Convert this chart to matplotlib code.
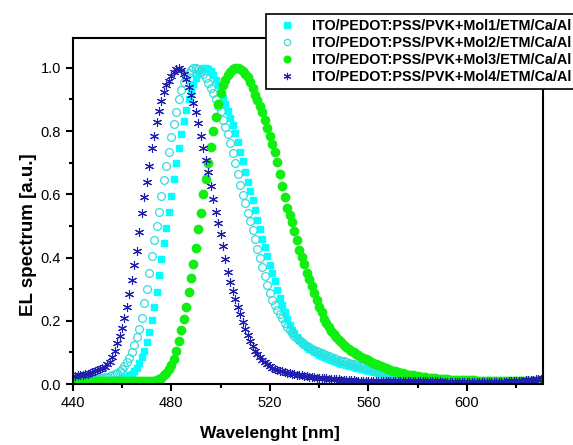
import numpy as np
import matplotlib.pyplot as plt
from matplotlib.ticker import MultipleLocator

plt.rcParams['font.family'] = ['Liberation Sans', 'DejaVu Sans']

# wavelength grid of the measured spectra, 1 nm steps
wavelength = np.arange(440, 632)

mol1 = [
    0.003, 0.003, 0.003, 0.004, 0.004, 0.004, 0.005, 0.005, 0.006, 0.006,
    0.007, 0.008, 0.008, 0.009, 0.010, 0.011, 0.012, 0.013, 0.014, 0.016,
    0.018, 0.020, 0.023, 0.027, 0.033, 0.041, 0.052, 0.066, 0.084, 0.105,
    0.132, 0.165, 0.203, 0.245, 0.292, 0.345, 0.395, 0.445, 0.495, 0.545,
    0.595, 0.648, 0.698, 0.745, 0.790, 0.832, 0.868, 0.900, 0.927, 0.950,
    0.968, 0.982, 0.992, 0.998, 1.000, 0.997, 0.990, 0.978, 0.962, 0.945,
    0.925, 0.905, 0.885, 0.862, 0.840, 0.818, 0.793, 0.765, 0.735, 0.705,
    0.672, 0.640, 0.610, 0.582, 0.552, 0.520, 0.490, 0.460, 0.432, 0.405,
    0.378, 0.352, 0.325, 0.298, 0.272, 0.250, 0.227, 0.205, 0.186, 0.172,
    0.160, 0.148, 0.138, 0.130, 0.123, 0.117, 0.112, 0.107, 0.102, 0.097,
    0.093, 0.089, 0.085, 0.082, 0.079, 0.076, 0.073, 0.070, 0.067, 0.064,
    0.062, 0.060, 0.058, 0.056, 0.054, 0.052, 0.050, 0.048, 0.046, 0.044,
    0.042, 0.041, 0.039, 0.038, 0.036, 0.035, 0.033, 0.032, 0.031, 0.030,
    0.029, 0.028, 0.027, 0.026, 0.025, 0.024, 0.023, 0.022, 0.021, 0.020,
    0.019, 0.019, 0.018, 0.017, 0.017, 0.016, 0.016, 0.015, 0.015, 0.014,
    0.014, 0.013, 0.013, 0.012, 0.012, 0.012, 0.011, 0.011, 0.011, 0.010,
    0.010, 0.010, 0.010, 0.010, 0.010, 0.010, 0.009, 0.009, 0.009, 0.009,
    0.009, 0.009, 0.009, 0.009, 0.009, 0.009, 0.008, 0.008, 0.008, 0.008,
    0.008, 0.008, 0.008, 0.008, 0.008, 0.008, 0.008, 0.008, 0.008, 0.008,
    0.008, 0.008,
]

mol2 = [
    0.010, 0.010, 0.011, 0.011, 0.012, 0.012, 0.013, 0.014, 0.015, 0.016,
    0.017, 0.018, 0.019, 0.021, 0.023, 0.025, 0.028, 0.031, 0.035, 0.040,
    0.048, 0.058, 0.070, 0.083, 0.100, 0.122, 0.148, 0.175, 0.210, 0.255,
    0.300, 0.350, 0.405, 0.455, 0.500, 0.545, 0.595, 0.645, 0.690, 0.735,
    0.780, 0.822, 0.860, 0.900, 0.930, 0.955, 0.972, 0.985, 0.994, 0.999,
    1.000, 0.997, 0.990, 0.980, 0.967, 0.952, 0.937, 0.920, 0.900, 0.880,
    0.862, 0.835, 0.812, 0.790, 0.762, 0.730, 0.698, 0.665, 0.630, 0.598,
    0.572, 0.540, 0.515, 0.488, 0.458, 0.428, 0.398, 0.370, 0.342, 0.312,
    0.288, 0.267, 0.250, 0.235, 0.222, 0.208, 0.194, 0.180, 0.170, 0.161,
    0.152, 0.145, 0.139, 0.133, 0.127, 0.121, 0.116, 0.112, 0.108, 0.104,
    0.100, 0.097, 0.094, 0.091, 0.088, 0.085, 0.082, 0.079, 0.077, 0.074,
    0.072, 0.069, 0.067, 0.064, 0.062, 0.060, 0.058, 0.056, 0.054, 0.052,
    0.050, 0.047, 0.044, 0.041, 0.038, 0.036, 0.034, 0.033, 0.031, 0.030,
    0.028, 0.027, 0.026, 0.025, 0.024, 0.023, 0.022, 0.021, 0.020, 0.019,
    0.018, 0.017, 0.017, 0.016, 0.016, 0.015, 0.015, 0.014, 0.014, 0.013,
    0.013, 0.012, 0.012, 0.012, 0.012, 0.011, 0.011, 0.011, 0.011, 0.011,
    0.011, 0.010, 0.010, 0.010, 0.010, 0.010, 0.010, 0.010, 0.010, 0.010,
    0.010, 0.010, 0.010, 0.009, 0.009, 0.009, 0.009, 0.009, 0.009, 0.009,
    0.009, 0.009, 0.009, 0.009, 0.009, 0.009, 0.009, 0.009, 0.009, 0.009,
    0.009, 0.009,
]

mol3 = [
    0.010, 0.010, 0.010, 0.010, 0.010, 0.010, 0.010, 0.010, 0.010, 0.010,
    0.010, 0.010, 0.010, 0.010, 0.010, 0.010, 0.010, 0.010, 0.010, 0.010,
    0.010, 0.010, 0.010, 0.010, 0.010, 0.010, 0.010, 0.010, 0.010, 0.010,
    0.010, 0.010, 0.011, 0.011, 0.012, 0.015, 0.020, 0.027, 0.036, 0.047,
    0.060, 0.080, 0.105, 0.135, 0.170, 0.205, 0.245, 0.290, 0.335, 0.380,
    0.430, 0.490, 0.540, 0.600, 0.650, 0.700, 0.750, 0.800, 0.845, 0.885,
    0.920, 0.945, 0.963, 0.977, 0.988, 0.995, 0.999, 1.000, 0.997, 0.990,
    0.980, 0.970, 0.955, 0.935, 0.915, 0.897, 0.880, 0.860, 0.835, 0.810,
    0.785, 0.758, 0.734, 0.703, 0.665, 0.627, 0.590, 0.558, 0.535, 0.513,
    0.485, 0.455, 0.425, 0.402, 0.380, 0.352, 0.333, 0.310, 0.287, 0.265,
    0.245, 0.227, 0.207, 0.192, 0.180, 0.169, 0.159, 0.149, 0.140, 0.132,
    0.124, 0.117, 0.111, 0.106, 0.101, 0.096, 0.092, 0.087, 0.083, 0.079,
    0.075, 0.071, 0.067, 0.063, 0.060, 0.057, 0.054, 0.051, 0.048, 0.045,
    0.042, 0.040, 0.038, 0.036, 0.034, 0.032, 0.030, 0.029, 0.027, 0.026,
    0.024, 0.023, 0.022, 0.021, 0.020, 0.019, 0.018, 0.018, 0.017, 0.016,
    0.016, 0.015, 0.015, 0.014, 0.014, 0.014, 0.013, 0.013, 0.013, 0.012,
    0.012, 0.012, 0.012, 0.012, 0.011, 0.011, 0.011, 0.011, 0.011, 0.011,
    0.010, 0.010, 0.010, 0.010, 0.010, 0.010, 0.010, 0.010, 0.010, 0.010,
    0.010, 0.009, 0.009, 0.009, 0.009, 0.009, 0.009, 0.009, 0.009, 0.009,
    0.009, 0.009,
]

mol4 = [
    0.025, 0.026, 0.027, 0.028, 0.030, 0.031, 0.033, 0.035, 0.037, 0.040,
    0.043, 0.046, 0.050, 0.055, 0.062, 0.070, 0.085, 0.105, 0.130, 0.152,
    0.178, 0.210, 0.245, 0.285, 0.330, 0.375, 0.420, 0.480, 0.540, 0.590,
    0.640, 0.690, 0.745, 0.785, 0.830, 0.865, 0.895, 0.925, 0.945, 0.960,
    0.975, 0.987, 0.997, 1.000, 0.993, 0.980, 0.965, 0.940, 0.915, 0.890,
    0.860, 0.825, 0.785, 0.745, 0.710, 0.670, 0.625, 0.585, 0.545, 0.510,
    0.475, 0.435, 0.395, 0.355, 0.322, 0.295, 0.270, 0.245, 0.220, 0.196,
    0.175, 0.155, 0.137, 0.120, 0.106, 0.094, 0.084, 0.076, 0.069, 0.063,
    0.057, 0.052, 0.048, 0.045, 0.042, 0.040, 0.038, 0.035, 0.034, 0.032,
    0.031, 0.030, 0.028, 0.027, 0.025, 0.024, 0.023, 0.022, 0.021, 0.020,
    0.020, 0.019, 0.018, 0.018, 0.017, 0.016, 0.016, 0.015, 0.015, 0.014,
    0.013, 0.013, 0.012, 0.012, 0.012, 0.011, 0.011, 0.011, 0.010, 0.010,
    0.010, 0.010, 0.010, 0.010, 0.010, 0.010, 0.010, 0.010, 0.010, 0.010,
    0.009, 0.009, 0.009, 0.009, 0.009, 0.009, 0.009, 0.009, 0.009, 0.009,
    0.009, 0.009, 0.009, 0.009, 0.009, 0.009, 0.009, 0.009, 0.009, 0.009,
    0.008, 0.008, 0.008, 0.008, 0.008, 0.008, 0.008, 0.008, 0.008, 0.008,
    0.008, 0.008, 0.008, 0.008, 0.008, 0.008, 0.008, 0.008, 0.008, 0.008,
    0.008, 0.008, 0.008, 0.008, 0.008, 0.008, 0.008, 0.009, 0.009, 0.009,
    0.010, 0.010, 0.011, 0.011, 0.012, 0.012, 0.013, 0.014, 0.015, 0.016,
    0.017, 0.018,
]

labels = [
    'ITO/PEDOT:PSS/PVK+Mol1/ETM/Ca/Al',
    'ITO/PEDOT:PSS/PVK+Mol2/ETM/Ca/Al',
    'ITO/PEDOT:PSS/PVK+Mol3/ETM/Ca/Al',
    'ITO/PEDOT:PSS/PVK+Mol4/ETM/Ca/Al',
]

fig = plt.figure(figsize=(5.73, 4.45), dpi=100)
ax = fig.add_axes([0.127, 0.137, 0.821, 0.778])

ax.plot(wavelength, mol1, ls='none', marker='s', ms=4.6, mfc='#00ffff',
        mec='#00ffff', label=labels[0])
ax.plot(wavelength, mol2, ls='none', marker='o', ms=5.6, mfc='none',
        mec='#33dddd', mew=0.9, label=labels[1])
ax.plot(wavelength, mol3, ls='none', marker='o', ms=6.0, mfc='#11ee11',
        mec='#11ee11', label=labels[2])
ax.plot(wavelength, mol4, ls='none', marker=(6, 2, 0), ms=6.5,
        mec='#2020b0', mew=0.8, label=labels[3])

ax.set_xlim(440, 631)
ax.set_ylim(0, 1.095)
ax.xaxis.set_major_locator(MultipleLocator(40))
ax.xaxis.set_minor_locator(MultipleLocator(20))
ax.yaxis.set_major_locator(MultipleLocator(0.2))
ax.yaxis.set_minor_locator(MultipleLocator(0.1))
ax.yaxis.set_major_formatter(plt.FuncFormatter(lambda v, p: f'{v:.1f}'))

for s in ax.spines.values():
    s.set_linewidth(1.5)
ax.tick_params(which='both', direction='out', width=1.5, top=False, right=False,
               labelsize=10.5, colors='black')
ax.tick_params(which='major', length=5)
ax.tick_params(which='minor', length=3)

ax.set_xlabel('Wavelenght [nm]', fontsize=12.5, fontweight='bold')
ax.set_ylabel('EL spectrum [a.u.]', fontsize=13.5, fontweight='bold')
ax.xaxis.set_label_coords(0.42, -0.12)
ax.yaxis.set_label_coords(-0.075, 0.43)

leg = ax.legend(loc='upper left', bbox_to_anchor=(266 / 573, 1 - 14 / 445),
                bbox_transform=fig.transFigure, borderaxespad=0,
                prop={'weight': 'bold', 'size': 10.4}, fancybox=False,
                handletextpad=0.6, handlelength=2.25, labelspacing=0.2,
                borderpad=0.35, framealpha=1, markerscale=0.8)
leg.get_frame().set_edgecolor('black')
leg.get_frame().set_linewidth(1.2)

fig.savefig('out.png', dpi=100)
